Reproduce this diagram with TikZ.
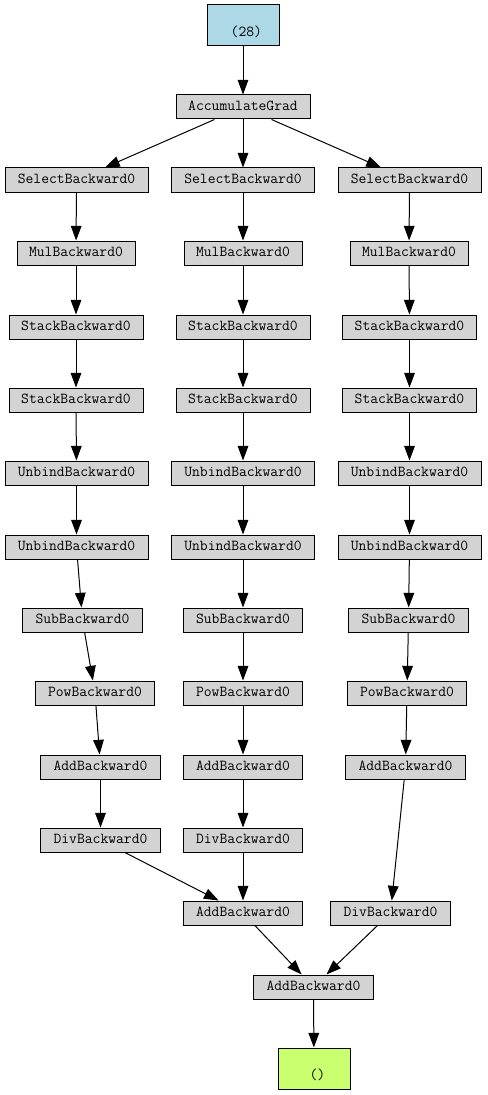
\documentclass[tikz,border=0pt]{standalone}
\usetikzlibrary{arrows.meta}
\definecolor{fngray}{HTML}{D3D3D3}
\definecolor{leafblue}{HTML}{ADD8E6}
\definecolor{outgreen}{HTML}{CAFF70}
\tikzset{
  fn/.style={draw=black, line width=0.75pt, fill=fngray, font=\ttfamily\fontsize{11.4pt}{13pt}\selectfont,
             minimum height=18pt, inner sep=0pt, text height=6.5pt, text depth=1pt},
  wA/.style={minimum width=107.25pt},
  wB/.style={minimum width=88.5pt},
  wC/.style={minimum width=100.5pt},
  wD/.style={minimum width=89.5pt},
  tensor/.style={draw=black, line width=0.75pt, font=\ttfamily\fontsize{11.4pt}{12pt}\selectfont,
             minimum width=54pt, minimum height=30.75pt, inner sep=0pt, align=center},
  edge/.style={draw=black, line width=0.75pt, -{Triangle[length=11pt,width=8pt]}}
}
\begin{document}
\begin{tikzpicture}[x=0.75pt,y=-0.75pt]
\useasboundingbox (0,0) rectangle (487,1095);
\node[tensor, fill=leafblue] (top) at (243,25.5) {\phantom{x}\\\hspace*{5pt}(28)};
\node[fn, wC] (acc) at (243,107) {AccumulateGrad};
% left column
\node[fn, wA] (s1) at (76.5,180) {SelectBackward0};
\node[fn, wB] (m1) at (76,253) {MulBackward0};
\node[fn, wC] (ka1) at (76,327) {StackBackward0};
\node[fn, wC] (kb1) at (76,400) {StackBackward0};
\node[fn, wA] (ua1) at (76.5,473) {UnbindBackward0};
\node[fn, wA] (ub1) at (76.5,547) {UnbindBackward0};
\node[fn, wD] (sub1) at (82.5,620) {SubBackward0};
\node[fn, wD] (pow1) at (95,693) {PowBackward0};
\node[fn, wD] (add1) at (100.5,767) {AddBackward0};
\node[fn, wD] (div1) at (100.5,840) {DivBackward0};
% middle column
\node[fn, wA] (s2) at (243,180) {SelectBackward0};
\node[fn, wB] (m2) at (243,253) {MulBackward0};
\node[fn, wC] (ka2) at (243,327) {StackBackward0};
\node[fn, wC] (kb2) at (243,400) {StackBackward0};
\node[fn, wA] (ua2) at (243,473) {UnbindBackward0};
\node[fn, wA] (ub2) at (243,547) {UnbindBackward0};
\node[fn, wD] (sub2) at (243,620) {SubBackward0};
\node[fn, wD] (pow2) at (243,693) {PowBackward0};
\node[fn, wD] (add2) at (243,767) {AddBackward0};
\node[fn, wD] (div2) at (243,840) {DivBackward0};
\node[fn, wD] (addm) at (243,913) {AddBackward0};
% right column
\node[fn, wA] (s3) at (409.5,180) {SelectBackward0};
\node[fn, wB] (m3) at (409,253) {MulBackward0};
\node[fn, wC] (ka3) at (409.5,327) {StackBackward0};
\node[fn, wC] (kb3) at (409.5,400) {StackBackward0};
\node[fn, wA] (ua3) at (409.5,473) {UnbindBackward0};
\node[fn, wA] (ub3) at (409.5,547) {UnbindBackward0};
\node[fn, wD] (sub3) at (408.5,620) {SubBackward0};
\node[fn, wD] (pow3) at (407,693) {PowBackward0};
\node[fn, wD] (add3) at (405.5,767) {AddBackward0};
\node[fn, wD] (div3) at (390.5,913) {DivBackward0};
% bottom
\node[fn, wD] (fin) at (313.5,987) {AddBackward0};
\node[tensor, fill=outgreen] (out) at (314,1068.5) {\phantom{x}\\\hspace*{5pt}()};
% edges
\draw[edge] (top) -- (acc);
\foreach \c in {1,2,3} {
  \draw[edge] (acc) -- (s\c);
  \draw[edge] (s\c) -- (m\c);
  \draw[edge] (m\c) -- (ka\c);
  \draw[edge] (ka\c) -- (kb\c);
  \draw[edge] (kb\c) -- (ua\c);
  \draw[edge] (ua\c) -- (ub\c);
  \draw[edge] (ub\c) -- (sub\c);
  \draw[edge] (sub\c) -- (pow\c);
  \draw[edge] (pow\c) -- (add\c);
}
\draw[edge] (add1) -- (div1);
\draw[edge] (add2) -- (div2);
\draw[edge] (add3) -- (div3);
\draw[edge] (div1) -- (addm);
\draw[edge] (div2) -- (addm);
\draw[edge] (addm) -- (fin);
\draw[edge] (div3) -- (fin);
\draw[edge] (fin) -- (out);
\end{tikzpicture}
\end{document}
